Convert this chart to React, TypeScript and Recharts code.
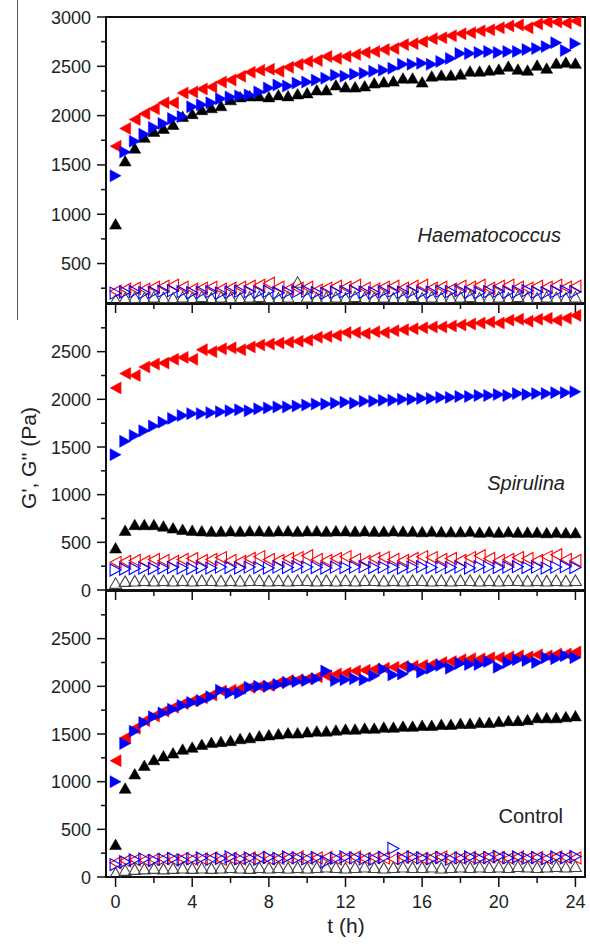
import { ScatterChart, Scatter, XAxis, YAxis, ReferenceArea } from 'recharts';

const times = [0, 0.5, 1, 1.5, 2, 2.5, 3, 3.5, 4, 4.5, 5, 5.5, 6, 6.5, 7, 7.5, 8, 8.5, 9, 9.5, 10, 10.5, 11, 11.5, 12, 12.5, 13, 13.5, 14, 14.5, 15, 15.5, 16, 16.5, 17, 17.5, 18, 18.5, 19, 19.5, 20, 20.5, 21, 21.5, 22, 22.5, 23, 23.5, 24];

// Haematococcus
const hRedG1 = [1690, 1870, 1960, 2020, 2070, 2130, 2130, 2230, 2240, 2270, 2290, 2340, 2360, 2400, 2440, 2460, 2470, 2450, 2490, 2520, 2550, 2560, 2600, 2580, 2600, 2620, 2640, 2650, 2670, 2680, 2720, 2730, 2750, 2780, 2790, 2810, 2830, 2840, 2860, 2870, 2890, 2910, 2920, 2890, 2930, 2950, 2950, 2940, 2960];
const hBlueG1 = [1390, 1630, 1740, 1810, 1880, 1920, 1970, 1990, 2090, 2110, 2130, 2170, 2190, 2200, 2210, 2240, 2280, 2310, 2300, 2330, 2340, 2360, 2380, 2410, 2400, 2420, 2430, 2450, 2460, 2480, 2520, 2520, 2530, 2520, 2550, 2580, 2630, 2630, 2640, 2650, 2640, 2650, 2650, 2670, 2680, 2700, 2740, 2660, 2730];
const hBlackG1 = [900, 1540, 1670, 1780, 1840, 1870, 1910, 1990, 2020, 2060, 2080, 2100, 2160, 2190, 2200, 2200, 2190, 2210, 2200, 2220, 2230, 2260, 2260, 2310, 2290, 2290, 2300, 2330, 2340, 2350, 2380, 2380, 2340, 2400, 2410, 2410, 2420, 2450, 2450, 2460, 2470, 2500, 2470, 2460, 2510, 2480, 2530, 2540, 2530];
const hRedG2 = [220, 240, 250, 240, 260, 270, 280, 260, 240, 250, 260, 240, 250, 260, 270, 280, 300, 260, 240, 250, 260, 230, 250, 270, 260, 280, 250, 240, 260, 270, 250, 270, 280, 250, 260, 240, 270, 260, 280, 250, 270, 280, 260, 250, 270, 260, 280, 260, 270];
const hBlueG2 = [200, 210, 215, 205, 210, 220, 225, 215, 205, 210, 215, 200, 210, 220, 215, 210, 220, 205, 210, 215, 220, 205, 200, 210, 215, 220, 210, 205, 215, 220, 210, 215, 205, 210, 220, 215, 225, 210, 205, 215, 220, 210, 215, 225, 210, 205, 215, 220, 215];
const hBlackG2 = [130, 150, 155, 150, 160, 155, 150, 160, 150, 165, 150, 160, 155, 150, 160, 165, 155, 150, 160, 310, 160, 150, 155, 160, 150, 165, 155, 150, 160, 150, 155, 165, 150, 160, 155, 150, 160, 165, 150, 155, 160, 150, 165, 155, 150, 160, 155, 150, 160];

// Spirulina
const sRedG1 = [2120, 2270, 2250, 2340, 2370, 2380, 2420, 2440, 2420, 2520, 2500, 2530, 2540, 2520, 2550, 2570, 2580, 2590, 2600, 2610, 2620, 2650, 2660, 2670, 2700, 2700, 2690, 2710, 2700, 2720, 2730, 2740, 2750, 2760, 2760, 2770, 2780, 2790, 2800, 2810, 2800, 2830, 2840, 2820, 2840, 2850, 2830, 2850, 2880];
const sBlueG1 = [1420, 1560, 1620, 1670, 1720, 1760, 1800, 1830, 1850, 1850, 1860, 1870, 1880, 1890, 1880, 1900, 1910, 1920, 1920, 1930, 1940, 1950, 1950, 1960, 1970, 1960, 1980, 1980, 1990, 1990, 2000, 2000, 2010, 2010, 2020, 2020, 2030, 2030, 2040, 2040, 2050, 2040, 2060, 2050, 2060, 2060, 2070, 2070, 2080];
const sBlackG1 = [440, 625, 685, 685, 685, 670, 650, 635, 625, 620, 615, 615, 620, 615, 620, 620, 615, 620, 620, 615, 620, 620, 615, 620, 620, 615, 620, 615, 615, 620, 615, 615, 610, 615, 610, 610, 610, 615, 605, 610, 605, 610, 605, 605, 605, 600, 605, 600, 600];
const sRedG2 = [290, 300, 310, 300, 320, 310, 300, 320, 330, 310, 320, 340, 310, 300, 330, 350, 320, 310, 330, 340, 360, 320, 310, 330, 350, 320, 300, 330, 340, 320, 310, 330, 350, 340, 320, 330, 310, 340, 360, 330, 310, 320, 340, 330, 310, 350, 370, 320, 310];
const sBlueG2 = [210, 220, 225, 230, 225, 230, 235, 230, 225, 235, 230, 240, 235, 230, 240, 235, 230, 240, 235, 245, 240, 235, 230, 240, 235, 240, 245, 235, 240, 235, 230, 240, 245, 235, 240, 235, 240, 230, 245, 240, 235, 240, 245, 235, 240, 230, 240, 245, 235];
const sBlackG2 = [70, 90, 95, 100, 95, 100, 95, 100, 95, 100, 100, 95, 100, 95, 100, 100, 95, 100, 95, 100, 100, 95, 100, 95, 100, 95, 100, 100, 95, 100, 95, 100, 100, 95, 100, 95, 100, 100, 95, 100, 95, 100, 100, 95, 100, 95, 100, 95, 100];

// Control
const cRedG1 = [1220, 1460, 1560, 1640, 1690, 1740, 1780, 1820, 1850, 1880, 1910, 1950, 1960, 1980, 1990, 2000, 2010, 2040, 2060, 2070, 2080, 2100, 2110, 2130, 2140, 2160, 2170, 2180, 2190, 2200, 2210, 2210, 2220, 2230, 2250, 2260, 2280, 2290, 2290, 2300, 2300, 2310, 2320, 2310, 2330, 2320, 2340, 2340, 2360];
const cBlueG1 = [1000, 1400, 1530, 1620, 1680, 1720, 1760, 1800, 1830, 1850, 1890, 1960, 1930, 1930, 1990, 2000, 2000, 2020, 2040, 2050, 2060, 2080, 2160, 2060, 2070, 2080, 2070, 2110, 2180, 2120, 2130, 2200, 2150, 2190, 2220, 2190, 2240, 2230, 2230, 2260, 2200, 2250, 2280, 2270, 2250, 2300, 2290, 2320, 2300];
const cBlackG1 = [340, 930, 1080, 1170, 1230, 1270, 1300, 1340, 1360, 1390, 1410, 1420, 1430, 1450, 1460, 1480, 1490, 1500, 1510, 1510, 1520, 1530, 1530, 1540, 1550, 1550, 1560, 1560, 1570, 1570, 1580, 1580, 1590, 1590, 1600, 1600, 1610, 1610, 1620, 1620, 1630, 1640, 1640, 1650, 1670, 1670, 1670, 1680, 1690];
const cRedG2 = [150, 170, 180, 175, 185, 190, 180, 195, 185, 190, 200, 185, 195, 190, 200, 205, 190, 195, 200, 210, 195, 200, 205, 190, 200, 210, 195, 205, 200, 190, 210, 200, 195, 205, 210, 200, 195, 205, 200, 210, 205, 195, 210, 200, 205, 195, 210, 205, 200];
const cBlueG2 = [130, 160, 180, 190, 175, 185, 195, 180, 190, 200, 185, 195, 210, 190, 200, 185, 205, 195, 210, 200, 190, 205, 160, 195, 210, 200, 190, 185, 205, 300, 195, 210, 200, 190, 205, 185, 200, 210, 195, 205, 215, 200, 210, 195, 205, 190, 210, 200, 215];
const cBlackG2 = [40, 70, 80, 85, 90, 85, 90, 95, 90, 95, 90, 95, 100, 95, 90, 100, 95, 100, 95, 100, 95, 100, 105, 100, 95, 100, 105, 100, 95, 100, 105, 100, 100, 105, 95, 100, 105, 100, 105, 100, 105, 100, 110, 105, 100, 105, 110, 105, 110];

const xTicks = [0, 2, 4, 6, 8, 10, 12, 14, 16, 18, 20, 22, 24];
const yTicksTop = [250, 500, 750, 1000, 1250, 1500, 1750, 2000, 2250, 2500, 2750, 3000];
const yTicksLow = [0, 250, 500, 750, 1000, 1250, 1500, 1750, 2000, 2250, 2500, 2750];

const FONT = '"Liberation Sans", Arial, sans-serif';
const RED = '#ff0000';
const BLUE = '#0000ff';
const BLACK = '#000000';

const pts = (vals: number[]) => times.map((t, i) => ({ t, v: vals[i] }));

type Dir = 'up' | 'left' | 'right';

function Tri({ cx, cy, dir, color, filled }: any) {
  if (cx == null || cy == null) return null;
  let p = '';
  if (dir === 'up') p = `${cx - 6},${cy + 5} ${cx + 6},${cy + 5} ${cx},${cy - 5.5}`;
  if (dir === 'left') p = `${cx + 5.5},${cy - 6} ${cx + 5.5},${cy + 6} ${cx - 5.5},${cy}`;
  if (dir === 'right') p = `${cx - 5.5},${cy - 6} ${cx - 5.5},${cy + 6} ${cx + 5.5},${cy}`;
  return (
    <polygon
      points={p}
      fill={filled ? color : 'none'}
      stroke={filled ? color : color === BLACK ? '#444' : color}
      strokeWidth={filled ? 0.5 : 1.1}
    />
  );
}

function XTick({ x, y, payload, labels }: any) {
  const major = payload.value % 4 === 0;
  return (
    <g>
      <line x1={x} x2={x} y1={y} y2={y + (major ? 10 : 6)} stroke="#111" strokeWidth={1.5} />
      {labels && major && (
        <text x={x} y={y + 31} textAnchor="middle" fontSize={18} fontFamily={FONT} fill="#222">
          {payload.value}
        </text>
      )}
    </g>
  );
}

function YTick({ x, y, payload }: any) {
  const major = payload.value % 500 === 0;
  return (
    <g>
      <line x1={x - (major ? 9 : 5)} x2={x} y1={y} y2={y} stroke="#111" strokeWidth={1.5} />
      {major && (
        <text x={x - 15} y={y + 6.5} textAnchor="end" fontSize={18} fontFamily={FONT} fill="#222">
          {payload.value}
        </text>
      )}
    </g>
  );
}

interface Series {
  name: string;
  data: number[];
  dir: Dir;
  color: string;
  filled: boolean;
}

function Panel({ top, bottom, domain, yTicks, series, labels }: {
  top: number;
  bottom: number;
  domain: [number, number];
  yTicks: number[];
  series: Series[];
  labels?: boolean;
}) {
  return (
    <div style={{ position: 'absolute', left: 0, top: 0 }}>
      <ScatterChart width={590} height={949} margin={{ top, bottom: 949 - bottom - 30, left: 46, right: 5 }}>
        <XAxis
          type="number"
          dataKey="t"
          domain={[-0.5, 24.5]}
          ticks={xTicks}
          interval={0}
          height={30}
          tickSize={0}
          tickMargin={0}
          tickLine={false}
          axisLine={false}
          allowDataOverflow
          tick={(p: any) => <XTick {...p} labels={labels} />}
        />
        <YAxis
          type="number"
          dataKey="v"
          domain={domain}
          ticks={yTicks}
          interval={0}
          width={60}
          tickSize={0}
          tickMargin={0}
          tickLine={false}
          axisLine={false}
          allowDataOverflow
          tick={(p: any) => <YTick {...p} />}
        />
        <ReferenceArea x1={-0.5} x2={24.5} y1={domain[0]} y2={domain[1]} fill="none" stroke="#111" strokeWidth={2} />
        {series.map((s) => (
          <Scatter
            key={s.name}
            name={s.name}
            data={pts(s.data)}
            isAnimationActive={false}
            shape={(p: any) => <Tri cx={p.cx} cy={p.cy} dir={s.dir} color={s.color} filled={s.filled} />}
          />
        ))}
      </ScatterChart>
    </div>
  );
}

const mk = (g1: [number[], number[], number[]], g2: [number[], number[], number[]]): Series[] => [
  { name: 'black G2', data: g2[2], dir: 'up', color: BLACK, filled: false },
  { name: 'red G2', data: g2[0], dir: 'left', color: RED, filled: false },
  { name: 'blue G2', data: g2[1], dir: 'right', color: BLUE, filled: false },
  { name: 'black G1', data: g1[2], dir: 'up', color: BLACK, filled: true },
  { name: 'red G1', data: g1[0], dir: 'left', color: RED, filled: true },
  { name: 'blue G1', data: g1[1], dir: 'right', color: BLUE, filled: true },
];

export default function App() {
  return (
    <div style={{ position: 'absolute', left: 0, top: 0, width: 590, height: 949, background: '#fff', fontFamily: FONT }}>
      <Panel top={17} bottom={303} domain={[100, 3000]} yTicks={yTicksTop}
        series={mk([hRedG1, hBlueG1, hBlackG1], [hRedG2, hBlueG2, hBlackG2])} />
      <Panel top={304} bottom={590} domain={[0, 3000]} yTicks={yTicksLow}
        series={mk([sRedG1, sBlueG1, sBlackG1], [sRedG2, sBlueG2, sBlackG2])} />
      <Panel top={591} bottom={877} domain={[0, 3000]} yTicks={yTicksLow} labels
        series={mk([cRedG1, cBlueG1, cBlackG1], [cRedG2, cBlueG2, cBlackG2])} />
      <svg width={590} height={949} style={{ position: 'absolute', left: 0, top: 0, pointerEvents: 'none' }}>
        <line x1={17.5} x2={17.5} y1={0} y2={320} stroke="#555" strokeWidth={1} />
        <text x={561} y={242} textAnchor="end" fontSize={20} fontStyle="italic" fontFamily={FONT} fill="#222">Haematococcus</text>
        <text x={565} y={490} textAnchor="end" fontSize={20} fontStyle="italic" fontFamily={FONT} fill="#222">Spirulina</text>
        <text x={563} y={823} textAnchor="end" fontSize={20} fontFamily={FONT} fill="#222">Control</text>
        <text x={346} y={933} textAnchor="middle" fontSize={21} fontFamily={FONT} fill="#222">t (h)</text>
        <text x={0} y={0} transform="translate(36 458) rotate(-90)" textAnchor="middle" fontSize={21} fontFamily={FONT} fill="#222">
          G', G'' (Pa)
        </text>
      </svg>
    </div>
  );
}
